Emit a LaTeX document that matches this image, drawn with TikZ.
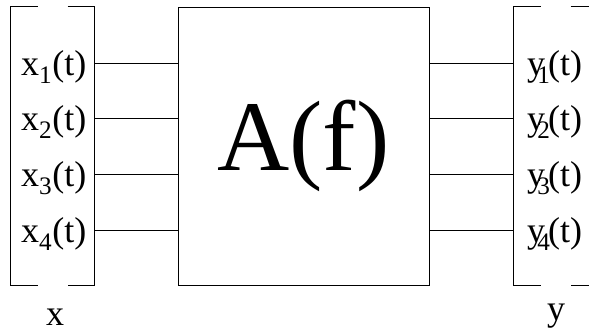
\documentclass[tikz,border=0pt]{standalone}
\usepackage{fontspec}
\setmainfont{Liberation Serif}
\usetikzlibrary{positioning, calc}
\newcommand{\ylab}[1]{y\kern-0.22em\rlap{\textsubscript{#1}}\kern0.3em(t)}

\begin{document}
\begin{tikzpicture}[x=1pt, y=-1pt,
    lbl/.style={inner sep=0pt, font=\fontsize{36}{40}\selectfont},
    sig/.style={line width=0.8pt},
    brk/.style={line width=1pt}
  ]
    \useasboundingbox (0,0) rectangle (589,335);
    % system block
    \node[draw, line width=1pt, minimum width=251pt, minimum height=278pt,
          font=\fontsize{100}{110}\selectfont] (sys) at (303.5,146) {A(f)};
    % input and output vectors
    \node[minimum width=83pt, minimum height=278pt] (xvec) at (52.5,146) {};
    \node[minimum width=83pt, minimum height=278pt] (yvec) at (555.5,146) {};
    \foreach \v in {xvec, yvec} {
      \draw[brk] ([xshift=-15pt]\v.north) -| (\v.south west) -- ([xshift=-15pt]\v.south);
      \draw[brk] ([xshift=15pt]\v.north) -| (\v.south east) -- ([xshift=15pt]\v.south);
    }
    \foreach \i in {1,...,4} {
      \node[lbl, anchor=base west] (x\i) at (21,{75+55.7*(\i-1)}) {x\textsubscript{\i}(t)};
      \node[lbl, anchor=base west] (y\i) at (527,{75+55.7*(\i-1)}) {\ylab{\i}};
      \coordinate (xo\i) at ($(xvec.east)+(0,{-83+55.7*(\i-1)})$);
      \coordinate (yi\i) at ($(yvec.west)+(0,{-83+55.7*(\i-1)})$);
      \draw[sig] (xo\i) -- (xo\i -| sys.west);
      \draw[sig] (sys.east |- yi\i) -- (yi\i);
    }
    \node[lbl, anchor=base] (xname) at (55,325) {x};
    \node[lbl, anchor=base] (yname) at (556,320) {y};
  \end{tikzpicture}
\end{document}
